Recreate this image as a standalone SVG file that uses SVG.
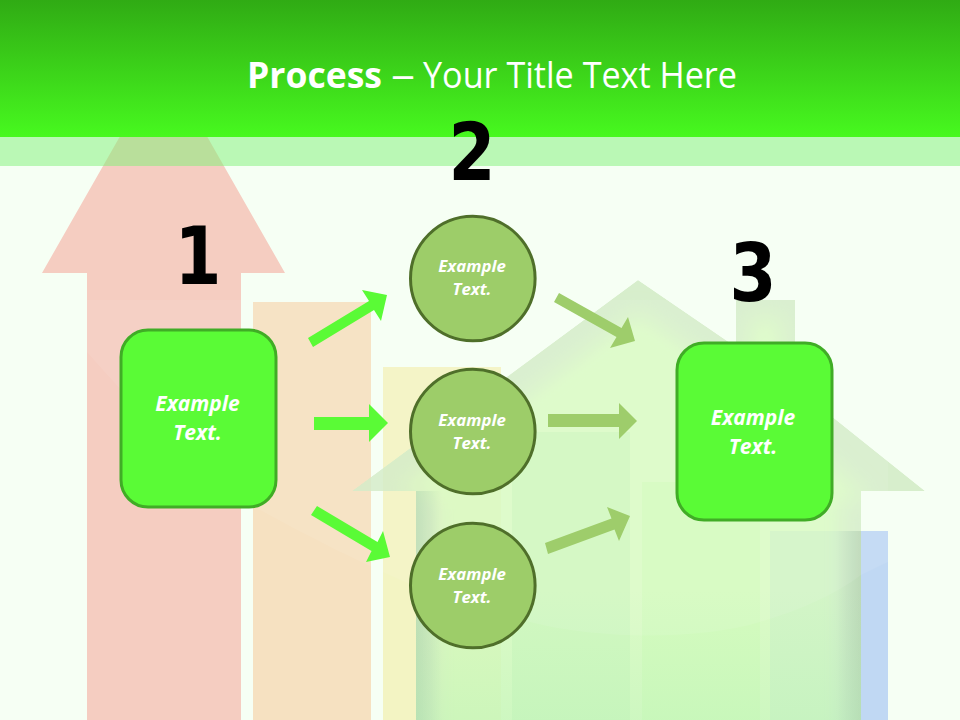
<svg xmlns="http://www.w3.org/2000/svg" width="960" height="720" viewBox="0 0 960 720">
<style>
text{font-family:"Open Sans","Liberation Sans",sans-serif}
.title{font-size:36px;fill:#fff}
.num{font-family:"DejaVu Sans","Open Sans",sans-serif;font-size:80px;font-weight:700;fill:#000;text-anchor:middle}
.big{font-size:21px;font-weight:700;font-style:italic;fill:#fff;text-anchor:middle}
.small{font-size:16.800px;font-weight:700;font-style:italic;fill:#fff;text-anchor:middle}
.box{fill:#5afb36;stroke:#40ac26;stroke-width:3}
.circ{fill:#9dcd69;stroke:#4f6f2a;stroke-width:3}
.a1{fill:#5afb36}
.a2{fill:#9ecd6b}
</style>
<defs>
<linearGradient id="banner" x1="0" y1="0" x2="0" y2="1"><stop offset="0" stop-color="#30ab14"/><stop offset="1" stop-color="#47f91f"/></linearGradient>
<linearGradient id="edgeL" x1="0" y1="0" x2="1" y2="0"><stop offset="0" stop-color="#a8d0a8" stop-opacity=".5"/><stop offset="1" stop-color="#a8d0a8" stop-opacity="0"/></linearGradient>
<linearGradient id="edgeR" x1="0" y1="0" x2="1" y2="0"><stop offset="0" stop-color="#a8c8a0" stop-opacity="0"/><stop offset="1" stop-color="#a8c8a0" stop-opacity=".45"/></linearGradient>
<linearGradient id="lower" x1="0" y1="0" x2="0" y2="1"><stop offset="0" stop-color="#a8eeb0" stop-opacity="0"/><stop offset="1" stop-color="#a8eeb0" stop-opacity=".28"/></linearGradient>
<clipPath id="houseClip"><polygon points="638,280 736,347 736,300 795,300 795,387 925,491 861,491 861,720 416,720 416,491 352,491"/></clipPath>
<filter id="soft" x="-20%" y="-20%" width="140%" height="140%"><feGaussianBlur stdDeviation="10"/></filter>
</defs>
<rect id="background" width="960" height="720" fill="#f6fff4"/>
<g id="backdrop">
<polygon points="163.500,60 285,273 241,273 241,720 87,720 87,273 42,273" fill="#f5cdc1"/>
<rect x="253" y="302" width="118" height="418" fill="#f6e1c1"/>
<rect x="383" y="367" width="118" height="353" fill="#f3f4c3"/>
<rect x="512" y="432" width="118" height="288" fill="#bbedcb"/>
<rect x="642" y="482" width="118" height="238" fill="#cdfcc3"/>
<rect x="770" y="531" width="118" height="189" fill="#c0d8f3"/>
<g opacity=".83" clip-path="url(#houseClip)">
<polygon points="638,280 736,347 736,300 795,300 795,387 925,491 861,491 861,720 416,720 416,491 352,491" fill="#d1ebc4"/>
<polygon filter="url(#soft)" points="638,312 745,385 750,318 781,318 786,420 870,500 842,500 842,760 436,760 436,500 400,490" fill="#d7fbbf"/>
</g>
<rect x="416" y="491" width="26" height="229" fill="url(#edgeL)"/>
<rect x="836" y="531" width="25" height="189" fill="url(#edgeR)"/>
<rect x="416" y="590" width="445" height="130" fill="url(#lower)"/>
<path d="M87,352C130,400 200,480 260,510C330,548 450,610 530,622C600,640 700,640 760,622C800,610 835,595 861,575L888,562L888,300L87,300Z" fill="#fff" opacity=".08"/>
</g>
<g id="banner-group">
<rect x="0" y="137" width="960" height="29" fill="#7df276" opacity=".5"/>
<rect width="960" height="137" fill="url(#banner)"/>
<text class="title" x="247" y="87.500" font-weight="700" textLength="135" lengthAdjust="spacingAndGlyphs">Process</text>
<text class="title" x="391" y="87.500" textLength="24" lengthAdjust="spacingAndGlyphs">–</text>
<text class="title" x="423" y="87.500" textLength="314" lengthAdjust="spacingAndGlyphs">Your Title Text Here</text>
</g>
<g id="connectors">
<polygon class="a1" points="308,338 369,301 362,290 387,295 381,321 374,310 313,347"/>
<polygon class="a1" points="314,417 369,417 369,404 388,423 369,442 369,430 314,430"/>
<polygon class="a1" points="311,515 317,506 377.500,542 383,531 390,557 366,562 371.500,551"/>
<polygon class="a2" points="554,302 559,293 621.500,328 628,317 635,341 610,348 616.500,337"/>
<polygon class="a2" points="548,414 619,414 619,403 637,421 619,439 619,427 548,427"/>
<polygon class="a2" points="545,543 611.500,518.500 607,507 630,516 619,541 614.500,529.500 548,554"/>
</g>
<g id="node-1"><rect class="box" x="121" y="330" width="155" height="177" rx="27"/><text class="big" x="197.500" y="411">Example</text><text class="big" x="197.500" y="440">Text.</text></g>
<g id="node-2a"><circle class="circ" cx="472.800" cy="278.500" r="62.300"/><text class="small" x="472" y="272">Example</text><text class="small" x="472" y="295">Text.</text></g>
<g id="node-2b"><circle class="circ" cx="472.800" cy="431.500" r="62.300"/><text class="small" x="472" y="426">Example</text><text class="small" x="472" y="449">Text.</text></g>
<g id="node-2c"><circle class="circ" cx="472.800" cy="585.500" r="62.300"/><text class="small" x="472" y="580">Example</text><text class="small" x="472" y="603">Text.</text></g>
<g id="node-3"><rect class="box" x="677" y="343" width="155" height="177" rx="27"/><text class="big" x="753" y="425">Example</text><text class="big" x="753" y="454">Text.</text></g>
<g id="numbers"><text class="num" x="198" y="284" textLength="47" lengthAdjust="spacingAndGlyphs">1</text><text class="num" x="472" y="180" textLength="47" lengthAdjust="spacingAndGlyphs">2</text><text class="num" x="753" y="301" textLength="47" lengthAdjust="spacingAndGlyphs">3</text></g>
</svg>
